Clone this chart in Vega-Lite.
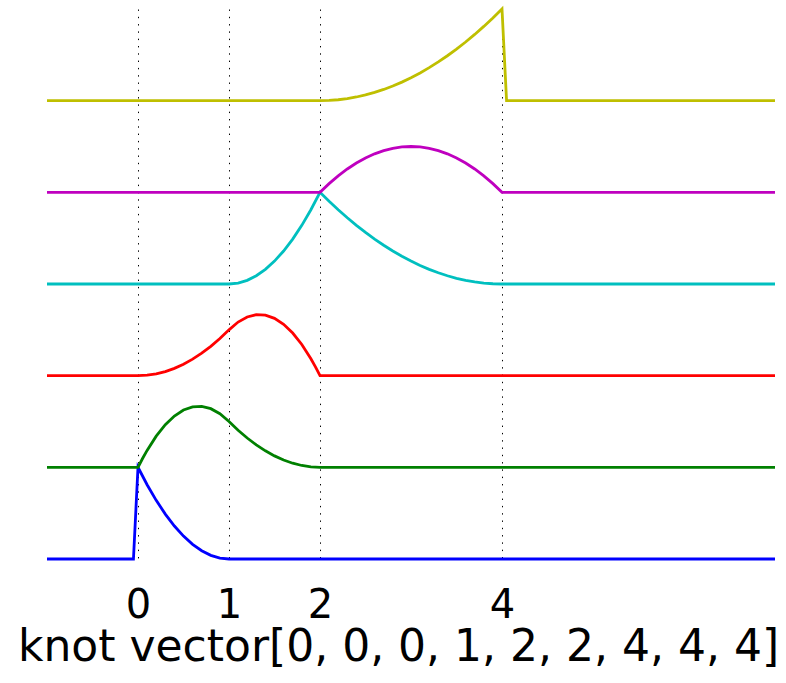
{
 "$schema": "https://vega.github.io/schema/vega-lite/v6.json",
 "width": 728, "height": 550,
 "autosize": {"type": "none"},
 "padding": {"left": 47, "top": 9, "right": 11, "bottom": 124},
 "background": "white",
 "config": {"view": {"stroke": null}},
 "data": {"values": [
  {"f":"N0","x":-1,"y":0},{"f":"N0","x":-0.05,"y":0},{"f":"N0","x":0,"y":1},{"f":"N0","x":0.1,"y":0.81},{"f":"N0","x":0.2,"y":0.64},{"f":"N0","x":0.3,"y":0.49},{"f":"N0","x":0.4,"y":0.36},{"f":"N0","x":0.5,"y":0.25},{"f":"N0","x":0.6,"y":0.16},{"f":"N0","x":0.7,"y":0.09},{"f":"N0","x":0.8,"y":0.04},{"f":"N0","x":0.9,"y":0.01},{"f":"N0","x":1,"y":0},{"f":"N0","x":7,"y":0},
  {"f":"N1","x":-1,"y":1},{"f":"N1","x":0,"y":1},{"f":"N1","x":0.05,"y":1.09625},{"f":"N1","x":0.1,"y":1.185},{"f":"N1","x":0.2,"y":1.34},{"f":"N1","x":0.3,"y":1.465},{"f":"N1","x":0.4,"y":1.56},{"f":"N1","x":0.5,"y":1.625},{"f":"N1","x":0.6,"y":1.66},{"f":"N1","x":0.7,"y":1.665},{"f":"N1","x":0.8,"y":1.64},{"f":"N1","x":0.9,"y":1.585},{"f":"N1","x":1,"y":1.5},{"f":"N1","x":1.1,"y":1.405},{"f":"N1","x":1.2,"y":1.32},{"f":"N1","x":1.3,"y":1.245},{"f":"N1","x":1.4,"y":1.18},{"f":"N1","x":1.5,"y":1.125},{"f":"N1","x":1.6,"y":1.08},{"f":"N1","x":1.7,"y":1.045},{"f":"N1","x":1.8,"y":1.02},{"f":"N1","x":1.9,"y":1.005},{"f":"N1","x":2,"y":1},{"f":"N1","x":7,"y":1},
  {"f":"N2","x":-1,"y":2},{"f":"N2","x":0,"y":2},{"f":"N2","x":0.1,"y":2.005},{"f":"N2","x":0.2,"y":2.02},{"f":"N2","x":0.3,"y":2.045},{"f":"N2","x":0.4,"y":2.08},{"f":"N2","x":0.5,"y":2.125},{"f":"N2","x":0.6,"y":2.18},{"f":"N2","x":0.7,"y":2.245},{"f":"N2","x":0.8,"y":2.32},{"f":"N2","x":0.9,"y":2.405},{"f":"N2","x":1,"y":2.5},{"f":"N2","x":1.1,"y":2.585},{"f":"N2","x":1.2,"y":2.64},{"f":"N2","x":1.3,"y":2.665},{"f":"N2","x":1.4,"y":2.66},{"f":"N2","x":1.5,"y":2.625},{"f":"N2","x":1.6,"y":2.56},{"f":"N2","x":1.7,"y":2.465},{"f":"N2","x":1.8,"y":2.34},{"f":"N2","x":1.9,"y":2.185},{"f":"N2","x":1.95,"y":2.09625},{"f":"N2","x":2,"y":2},{"f":"N2","x":7,"y":2},
  {"f":"N3","x":-1,"y":3},{"f":"N3","x":1,"y":3},{"f":"N3","x":1.1,"y":3.01},{"f":"N3","x":1.2,"y":3.04},{"f":"N3","x":1.3,"y":3.09},{"f":"N3","x":1.4,"y":3.16},{"f":"N3","x":1.5,"y":3.25},{"f":"N3","x":1.6,"y":3.36},{"f":"N3","x":1.7,"y":3.49},{"f":"N3","x":1.8,"y":3.64},{"f":"N3","x":1.9,"y":3.81},{"f":"N3","x":2,"y":4},{"f":"N3","x":2.1,"y":3.9025},{"f":"N3","x":2.2,"y":3.81},{"f":"N3","x":2.3,"y":3.7225},{"f":"N3","x":2.4,"y":3.64},{"f":"N3","x":2.5,"y":3.5625},{"f":"N3","x":2.6,"y":3.49},{"f":"N3","x":2.7,"y":3.4225},{"f":"N3","x":2.8,"y":3.36},{"f":"N3","x":2.9,"y":3.3025},{"f":"N3","x":3,"y":3.25},{"f":"N3","x":3.1,"y":3.2025},{"f":"N3","x":3.2,"y":3.16},{"f":"N3","x":3.3,"y":3.1225},{"f":"N3","x":3.4,"y":3.09},{"f":"N3","x":3.5,"y":3.0625},{"f":"N3","x":3.6,"y":3.04},{"f":"N3","x":3.7,"y":3.0225},{"f":"N3","x":3.8,"y":3.01},{"f":"N3","x":3.9,"y":3.0025},{"f":"N3","x":4,"y":3},{"f":"N3","x":7,"y":3},
  {"f":"N4","x":-1,"y":4},{"f":"N4","x":2,"y":4},{"f":"N4","x":2.1,"y":4.095},{"f":"N4","x":2.2,"y":4.18},{"f":"N4","x":2.3,"y":4.255},{"f":"N4","x":2.4,"y":4.32},{"f":"N4","x":2.5,"y":4.375},{"f":"N4","x":2.6,"y":4.42},{"f":"N4","x":2.7,"y":4.455},{"f":"N4","x":2.8,"y":4.48},{"f":"N4","x":2.9,"y":4.495},{"f":"N4","x":3,"y":4.5},{"f":"N4","x":3.1,"y":4.495},{"f":"N4","x":3.2,"y":4.48},{"f":"N4","x":3.3,"y":4.455},{"f":"N4","x":3.4,"y":4.42},{"f":"N4","x":3.5,"y":4.375},{"f":"N4","x":3.6,"y":4.32},{"f":"N4","x":3.7,"y":4.255},{"f":"N4","x":3.8,"y":4.18},{"f":"N4","x":3.9,"y":4.095},{"f":"N4","x":4,"y":4},{"f":"N4","x":7,"y":4},
  {"f":"N5","x":-1,"y":5},{"f":"N5","x":2,"y":5},{"f":"N5","x":2.1,"y":5.0025},{"f":"N5","x":2.2,"y":5.01},{"f":"N5","x":2.3,"y":5.0225},{"f":"N5","x":2.4,"y":5.04},{"f":"N5","x":2.5,"y":5.0625},{"f":"N5","x":2.6,"y":5.09},{"f":"N5","x":2.7,"y":5.1225},{"f":"N5","x":2.8,"y":5.16},{"f":"N5","x":2.9,"y":5.2025},{"f":"N5","x":3,"y":5.25},{"f":"N5","x":3.1,"y":5.3025},{"f":"N5","x":3.2,"y":5.36},{"f":"N5","x":3.3,"y":5.4225},{"f":"N5","x":3.4,"y":5.49},{"f":"N5","x":3.5,"y":5.5625},{"f":"N5","x":3.6,"y":5.64},{"f":"N5","x":3.7,"y":5.7225},{"f":"N5","x":3.8,"y":5.81},{"f":"N5","x":3.9,"y":5.9025},{"f":"N5","x":4,"y":6},{"f":"N5","x":4.05,"y":5},{"f":"N5","x":7,"y":5}
 ]},
 "mark": {"type": "line", "strokeWidth": 2.8, "clip": false},
 "encoding": {
  "x": {"field": "x", "type": "quantitative",
   "scale": {"domain": [-1, 7], "nice": false, "zero": false},
   "axis": {"values": [0, 1, 2, 4], "title": "knot vector[0, 0, 0, 1, 2, 2, 4, 4, 4]",
    "domain": false, "ticks": false, "labelFontSize": 40, "labelFont": "DejaVu Sans", "labelColor": "black",
    "labelPadding": 26, "labelFlush": false, "labelOverlap": false,
    "grid": true, "gridColor": "black", "gridDash": [1.4, 5.9], "gridWidth": 1, "gridOpacity": 1,
    "titleFont": "DejaVu Sans", "titleFontSize": 44, "titleFontWeight": "normal", "titleColor": "black",
    "titlePadding": 0, "titleX": 351}},
  "y": {"field": "y", "type": "quantitative", "scale": {"domain": [0, 6], "nice": false, "zero": false}, "axis": null},
  "color": {"field": "f", "type": "nominal",
   "scale": {"domain": ["N0", "N1", "N2", "N3", "N4", "N5"], "range": ["#0000ff", "#008000", "#ff0000", "#00bfbf", "#bf00bf", "#bfbf00"]},
   "legend": null}
 }
}
